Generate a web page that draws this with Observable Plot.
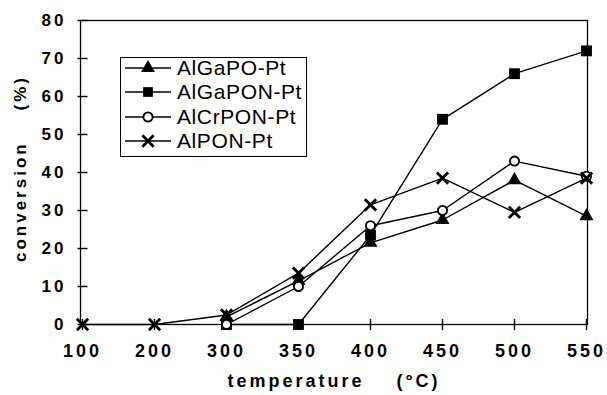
<!DOCTYPE html>
<html><head><meta charset="utf-8">
<script src="https://cdn.jsdelivr.net/npm/d3@7"></script>
<script src="https://cdn.jsdelivr.net/npm/@observablehq/plot@0.6"></script>
<style>
body{margin:0;background:#fff}
#wrap{position:relative;width:607px;height:395px;overflow:hidden}
#chart svg text{font-weight:bold;letter-spacing:3px}
#legend{position:absolute;left:120px;top:57px;width:187px;height:100px;border:1.3px solid #000;background:#fff;box-sizing:border-box;font:21px "Liberation Sans",Arial,sans-serif;letter-spacing:0.6px;color:#000}
.row{position:absolute;left:4px;height:24px;display:flex;align-items:center;white-space:nowrap}
.row svg{margin-right:6px}
</style></head>
<body><div id="wrap"><div id="chart"></div><div id="legend"></div></div>
<script>
const temperatures = ["100","200","300","350","400","450","500","550"];
const seriesNames = ["AlGaPO-Pt","AlGaPON-Pt","AlCrPON-Pt","AlPON-Pt"];
const alGaPO  = [null, null, 2,   11.5, 21.5, 27.5, 38,   28.5];
const alGaPON = [null, null, 0,   0,    23.5, 54,   66,   72];
const alCrPON = [null, null, 0,   10,   26,   30,   43,   39];
const alPON   = [0,    0,    2.5, 13.5, 31.5, 38.5, 29.5, 38.5];
const yTicks = [0,10,20,30,40,50,60,70,80];
const xTitle = "temperature\u00a0\u00a0\u00a0\u00a0(°C)";
const yTitle = "conversion\u00a0\u00a0\u00a0\u00a0(%)";

const symbols = {"AlGaPO-Pt":"triangle","AlGaPON-Pt":"square","AlCrPON-Pt":"circle","AlPON-Pt":"times"};
const radii = {"AlGaPO-Pt":5.2,"AlGaPON-Pt":6.1,"AlCrPON-Pt":4.6,"AlPON-Pt":5.2};
const fills = {"AlGaPO-Pt":"black","AlGaPON-Pt":"black","AlCrPON-Pt":"white","AlPON-Pt":"none"};
const strokes = {"AlGaPO-Pt":"none","AlGaPON-Pt":"none","AlCrPON-Pt":"black","AlPON-Pt":"black"};
const sw = {"AlGaPO-Pt":0,"AlGaPON-Pt":0,"AlCrPON-Pt":1.8,"AlPON-Pt":2.8};

const vTickSymbol = {draw(ctx) { ctx.moveTo(0, -5.5); ctx.lineTo(0, 5.5); }};
const hTickSymbol = {draw(ctx) { ctx.moveTo(-5, 0); ctx.lineTo(5, 0); }};

const valuesBySeries = [alGaPO, alGaPON, alCrPON, alPON];
const rows = [];
seriesNames.forEach((s, i) => {
  valuesBySeries[i].forEach((v, j) => {
    if (v != null) rows.push({series: s, temp: temperatures[j], value: v});
  });
});

const drawOrder = ["AlGaPON-Pt","AlGaPO-Pt","AlCrPON-Pt","AlPON-Pt"];
const seriesMarks = [];
for (const s of drawOrder) {
  const d = rows.filter(r => r.series === s);
  seriesMarks.push(Plot.line(d, {x: "temp", y: "value", stroke: "black", strokeWidth: 1.4}));
}
for (const s of drawOrder) {
  const d = rows.filter(r => r.series === s);
  seriesMarks.push(Plot.dot(d, {x: "temp", y: "value", symbol: () => symbols[s], r: radii[s], fill: fills[s], stroke: strokes[s], strokeWidth: sw[s]}));
}

const chart = Plot.plot({
  width: 607, height: 395,
  marginLeft: 80, marginRight: 20, marginTop: 20, marginBottom: 71,
  style: {fontFamily: '"Liberation Sans", Arial, sans-serif', color: "black", background: "white"},
  x: {type: "point", domain: temperatures, padding: 0, align: 0.5},
  y: {domain: [0, 80]},
  marks: [
    Plot.frame({stroke: "black", strokeWidth: 1.3}),
    Plot.dot(yTicks, {x: () => temperatures[0], y: d => d, symbol: hTickSymbol, stroke: "black", strokeWidth: 1.4, fill: "none"}),
    Plot.dot(temperatures, {x: d => d, y: () => 0, symbol: vTickSymbol, stroke: "black", strokeWidth: 1.4, fill: "none"}),
    Plot.axisY({ticks: yTicks, tickSize: 0, tickPadding: 14, fontSize: 17, label: null}),
    Plot.axisX({tickSize: 0, tickPadding: 20, fontSize: 18, label: null}),
    Plot.text([yTitle], {frameAnchor: "left", dx: -60, dy: -4, rotate: -90, fontSize: 17, fontWeight: "bold", textAnchor: "middle"}),
    Plot.text([xTitle], {frameAnchor: "bottom", dy: 62, fontSize: 18, fontWeight: "bold", textAnchor: "middle"}),
    ...seriesMarks
  ]
});
document.getElementById("chart").appendChild(chart);

const legend = document.getElementById("legend");
const symPath = {
  "triangle": d3.symbol(d3.symbolTriangle, radii["AlGaPO-Pt"]**2*Math.PI)(),
  "square": d3.symbol(d3.symbolSquare, (radii["AlGaPON-Pt"]-0.6)**2*Math.PI)(),
  "circle": d3.symbol(d3.symbolCircle, radii["AlCrPON-Pt"]**2*Math.PI)(),
  "times": d3.symbol(d3.symbolTimes, radii["AlPON-Pt"]**2*Math.PI)()
};
seriesNames.forEach((s, i) => {
  const row = document.createElement("div");
  row.className = "row";
  row.style.top = (-2 + i * 24.3) + "px";
  const ns = "http://www.w3.org/2000/svg";
  const svg = document.createElementNS(ns, "svg");
  svg.setAttribute("width", 46); svg.setAttribute("height", 24);
  const line = document.createElementNS(ns, "line");
  line.setAttribute("x1", 0); line.setAttribute("x2", 46);
  line.setAttribute("y1", 12); line.setAttribute("y2", 12);
  line.setAttribute("stroke", "black"); line.setAttribute("stroke-width", 1.4);
  svg.appendChild(line);
  const p = document.createElementNS(ns, "path");
  p.setAttribute("d", symPath[symbols[s]]);
  p.setAttribute("transform", "translate(23,12)");
  p.setAttribute("fill", fills[s]); p.setAttribute("stroke", strokes[s]);
  p.setAttribute("stroke-width", sw[s]);
  svg.appendChild(p);
  row.appendChild(svg);
  const t = document.createElement("span");
  t.textContent = s;
  row.appendChild(t);
  legend.appendChild(row);
});
</script>
</body></html>
